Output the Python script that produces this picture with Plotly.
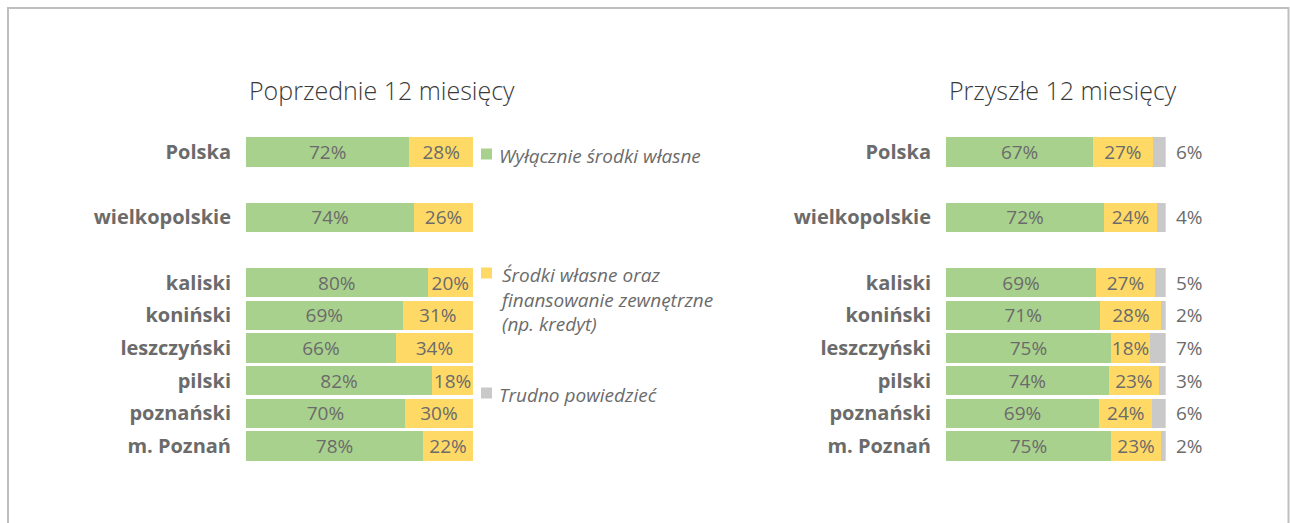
import plotly.graph_objects as go

OFF = 0  # figure placed at the page origin (body margin removed below)
W, H = 1290, 523

categories = ["Polska", "wielkopolskie", "kaliski", "koniński", "leszczyński",
              "pilski", "poznański", "m. Poznań"]
category_order = ["Polska", " ", "wielkopolskie", "  ", "kaliski", "koniński",
                  "leszczyński", "pilski", "poznański", "m. Poznań"]

prev_own = [72, 74, 80, 69, 66, 82, 70, 78]
prev_ext = [28, 26, 20, 31, 34, 18, 30, 22]

next_own = [67, 72, 69, 71, 75, 74, 69, 75]
next_ext = [27, 24, 27, 28, 18, 23, 24, 23]
next_dk = [6, 4, 5, 2, 7, 3, 6, 2]

series_names = ["Wyłącznie środki własne",
                "Środki własne oraz<br>finansowanie zewnętrzne<br>(np. kredyt)",
                "Trudno powiedzieć"]
titles = ["Poprzednie 12 miesięcy", "Przyszłe 12 miesięcy"]

GREEN = "#A9D18E"
YELLOW = "#FFD966"
GRAY = "#C9C9C9"
TXT = "#6b6b6b"
FONT = "Open Sans"

def px(x):
    return (x - OFF) / W

def py(y):
    return 1 - (y - OFF) / H

fig = go.Figure()

def add_bar(vals, color, xa, ya, show_text=True):
    fig.add_trace(go.Bar(
        x=vals, y=categories, orientation="h",
        marker=dict(color=color, line=dict(width=0)),
        text=[f"{v}%" for v in vals] if show_text else None,
        textposition="inside" if show_text else "none",
        insidetextanchor="middle",
        textfont=dict(family=FONT, size=19, color=TXT),
        width=0.9, xaxis=xa, yaxis=ya, showlegend=False,
        hoverinfo="skip",
    ))

add_bar(prev_own, GREEN, "x", "y")
add_bar(prev_ext, YELLOW, "x", "y")
add_bar(next_own, GREEN, "x2", "y2")
add_bar(next_ext, YELLOW, "x2", "y2")
add_bar(next_dk, GRAY, "x2", "y2", show_text=False)

ydom = [py(462.3), py(135.7)]
yax = dict(type="category", categoryorder="array", categoryarray=category_order,
           autorange="reversed", domain=ydom, showgrid=False, zeroline=False,
           showline=False, ticks="", ticklabelstandoff=14,
           tickfont=dict(family=FONT, size=20, color=TXT, weight="bold"))
xax = dict(range=[0, 100], showgrid=False, zeroline=False, showline=False,
           showticklabels=False, ticks="", fixedrange=True)

fig.update_layout(
    width=W, height=H,
    margin=dict(l=0, r=0, t=0, b=0),
    paper_bgcolor="white", plot_bgcolor="white",
    barmode="stack", barnorm="percent", bargap=0.1,
    uniformtext=dict(minsize=19, mode="show"),
    xaxis=dict(xax, domain=[px(246), px(473)], anchor="y"),
    xaxis2=dict(xax, domain=[px(946), px(1165.7)], anchor="y2"),
    yaxis=dict(yax, anchor="x"),
    yaxis2=dict(yax, anchor="x2"),
)

annotations = []
# panel titles
for t, cx in zip(titles, [382, 1063]):
    annotations.append(dict(text=t, xref="paper", yref="paper", x=px(cx), y=py(90),
                            xanchor="center", yanchor="middle", showarrow=False,
                            font=dict(family=FONT, size=25, color="#3a3a3a", weight=300)))

# outside labels for "Trudno powiedzieć"
for c, v in zip(categories, next_dk):
    annotations.append(dict(text=f"{v}%", xref="x2", yref="y2", x=100, y=c,
                            xanchor="center", yanchor="middle", xshift=24,
                            showarrow=False,
                            font=dict(family=FONT, size=19, color=TXT)))

# legend
legend_items = [(series_names[0], GREEN, 154), (series_names[1], YELLOW, 273),
                (series_names[2], GRAY, 393)]
shapes = []
for name, col, ly in legend_items:
    shapes.append(dict(type="rect", xref="paper", yref="paper",
                       x0=px(481), x1=px(492), y0=py(ly + 5.5), y1=py(ly - 5.5),
                       fillcolor=col, line=dict(width=0)))
    annotations.append(dict(text=f"<i>{name}</i>", xref="paper", yref="paper",
                            x=px(497), y=py(ly - 13), xanchor="left", yanchor="top",
                            align="left", showarrow=False,
                            font=dict(family=FONT, size=19, color=TXT)))

# frame
shapes.append(dict(type="rect", xref="paper", yref="paper",
                   x0=px(8), x1=px(1288.5), y0=py(560), y1=py(8),
                   line=dict(color="#bfbfbf", width=2), fillcolor="rgba(0,0,0,0)",
                   layer="below"))

fig.update_layout(annotations=annotations, shapes=shapes)

fig.write_html("out.html",
               config={"displayModeBar": False},
               post_script="document.body.style.margin='0';"
                           "document.documentElement.style.overflow='hidden';"
                           "document.body.style.overflow='hidden';")
